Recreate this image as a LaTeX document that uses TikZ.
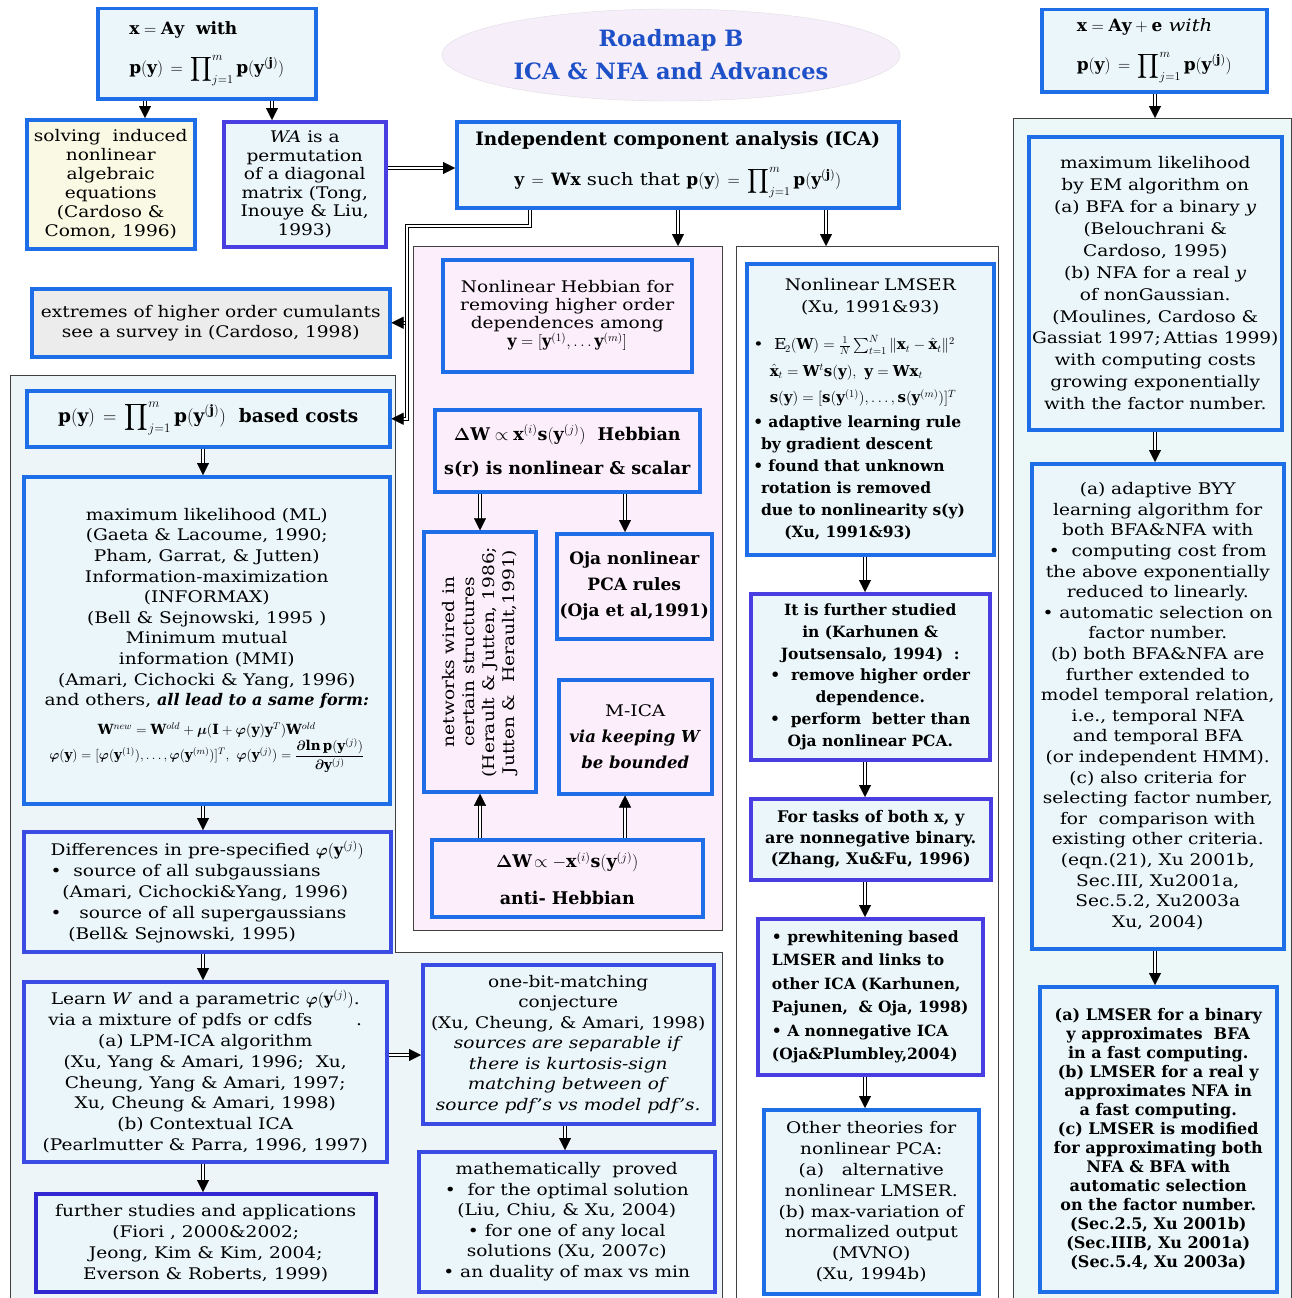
\RequirePackage{fix-cm}
\documentclass[tikz,border=0pt]{standalone}
\usepackage{amsmath,amssymb}
\usepackage{fontspec}
\setmainfont{DejaVu Serif}[FakeStretch=1.16, BoldFeatures={FakeStretch=1.0}, BoldItalicFeatures={FakeStretch=1.0}]
\usetikzlibrary{arrows.meta,decorations.markings,calc,shapes.geometric}
\definecolor{bblue}{RGB}{30,110,232}
\definecolor{pblue}{RGB}{72,62,226}
\definecolor{dblue}{RGB}{50,40,210}
\definecolor{boxfill}{RGB}{234,246,250}
\definecolor{panfill}{RGB}{238,245,248}
\definecolor{pinkfill}{RGB}{252,238,250}
\definecolor{rpanfill}{RGB}{236,248,248}
\definecolor{yelfill}{RGB}{250,250,228}
\definecolor{greyfill}{RGB}{236,236,236}
\definecolor{titlefill}{RGB}{246,238,248}
\definecolor{titleblue}{RGB}{30,80,200}
\newcommand\fsz[2]{\fontsize{#1}{#2}\selectfont}
\newcommand\BX[7]{\node[#1, anchor=north west, minimum width={(#4-#2)*1pt}, minimum height={(#5-#3)*1pt}] (#6) at (#2,#3) {#7};}
\newcommand\PY{\mathbf{p(y)}\,=\,\displaystyle\prod\nolimits_{j=1}^{m}\mathbf{p(y^{(j)})}}
\tikzset{
  box/.style={draw=bblue, line width=3.5pt, fill=boxfill, align=center, inner sep=2pt, font=\fsz{16}{20}},
  pbox/.style={box, draw=pblue},
  panel/.style={draw=black!75, line width=0.8pt},
  dbl/.style={draw=black, line width=0.8pt, double=white, double distance=2.2pt, shorten >=9pt,
    postaction={decorate, decoration={markings, mark=at position 1 with {\arrow[line width=0.4pt]{Triangle[length=12pt,width=12pt]}}}}},
}
\begin{document}
\begin{tikzpicture}[x=1pt,y=-1pt]
\useasboundingbox (0,0) rectangle (1291,1298);
% ---------- panels
\draw[panel, fill=panfill] (10,375) -- (395,375) -- (395,952) -- (722,952) -- (722,1298) -- (10,1298) -- cycle;
\BX{panel, fill=pinkfill}{413}{246}{722}{930}{pinkpan}{}
\BX{panel, fill=white}{736}{246}{998}{1298}{lmspan}{}
\BX{panel, fill=rpanfill}{1013}{118}{1291}{1298}{rpan}{}
% ---------- title
\node[ellipse, fill=titlefill, draw=titlefill!92!black, line width=0.4pt, minimum width=458pt, minimum height=92pt,
  text=titleblue, font=\bfseries\fsz{22.5}{33}, align=center] (T) at (671,55) {Roadmap B\\ICA \& NFA and Advances};
% ---------- top row
\BX{box, align=left, font=\bfseries\fsz{17}{30}}{96}{7}{314}{97}{A}{$\mathbf{x}=\mathbf{Ay}$\ \ with\\[9pt] $\PY$}
\BX{box, fill=yelfill, font=\fsz{16}{19}}{25}{118}{193}{247}{B}{solving\ \ induced\\nonlinear\\algebraic\\equations\\(Cardoso \&\\Comon, 1996)}
\BX{pbox, font=\fsz{16}{18.5}}{222}{120}{384}{245}{C}{\textit{WA} is a\\permutation\\of a diagonal\\matrix (Tong,\\Inouye \& Liu,\\1993)}
\BX{box, font=\fsz{17}{30}}{455}{120}{897}{206}{ICA}{{\bfseries\fsz{18.5}{30}Independent component analysis (ICA)}\\[10pt] $\mathbf{y}\,=\,\mathbf{Wx}$ such that $\PY$}
\BX{box, align=left, font=\fsz{17}{30}}{1040}{8}{1265}{90}{TR}{$\mathbf{x}=\mathbf{Ay}+\mathbf{e}$ \textit{with}\\[9pt] $\PY$}
% ---------- left column
\BX{box, fill=greyfill, font=\fsz{16}{20}}{30}{287}{388}{355}{EXT}{extremes of higher order cumulants\\see a survey in (Cardoso, 1998)}
\BX{box, font=\bfseries\fsz{18.5}{20}}{25}{389}{388}{445}{L1}{$\PY$\ \ based costs}
\BX{box, font=\fsz{16}{20.6}}{22}{475}{388}{802}{L2}{maximum likelihood (ML)\\(Gaeta \& Lacoume, 1990;\\Pham, Garrat, \& Jutten)\\Information-maximization\\(INFORMAX)\\(Bell \& Sejnowski, 1995 )\\Minimum mutual\\information (MMI)\\(Amari, Cichocki \& Yang, 1996)\\and others, \textbf{\textit{all lead to a same form:}}\\[8pt]
{\fsz{14}{20}$\mathbf{W}^{new}=\mathbf{W}^{old}+\boldsymbol{\mu}(\mathbf{I}+\boldsymbol{\varphi}(\mathbf{y})\mathbf{y}^{T})\mathbf{W}^{old}$}\\
{\fsz{13.5}{20}$\boldsymbol{\varphi}(\mathbf{y})=[\boldsymbol{\varphi}(\mathbf{y}^{(1)}),\dots,\boldsymbol{\varphi}(\mathbf{y}^{(m)})]^{T},\ \boldsymbol{\varphi}(\mathbf{y}^{(j)})=\dfrac{\boldsymbol{\partial}\mathbf{ln\,p}(\mathbf{y}^{(j)})}{\boldsymbol{\partial}\mathbf{y}^{(j)}}$}}
\BX{pbox, draw=pblue!70!bblue, align=left, font=\fsz{16}{21}}{22}{830}{389}{950}{L3}{Differences in pre-specified $\boldsymbol{\varphi}(\mathbf{y}^{(j)})$\\\textbullet\ \ source of all subgaussians\\\ \ (Amari, Cichocki\&Yang, 1996)\\\textbullet\ \ \ source of all supergaussians\\\ \ \ (Bell\& Sejnowski, 1995)}
\BX{pbox, draw=pblue!70!bblue, font=\fsz{16}{20.9}}{22}{980}{385}{1160}{L4}{Learn \textit{W} and a parametric $\boldsymbol{\varphi}(\mathbf{y}^{(j)})$.\\via a mixture of pdfs or cdfs \qquad\ .\\(a) LPM-ICA algorithm\\(Xu, Yang \& Amari, 1996;\ \ Xu,\\Cheung, Yang \& Amari, 1997;\\Xu, Cheung \& Amari, 1998)\\(b) Contextual ICA\\(Pearlmutter \& Parra, 1996, 1997)}
\BX{pbox, draw=dblue, font=\fsz{16}{21}}{34}{1192}{374}{1290}{L5}{further studies and applications\\(Fiori , 2000\&2002;\\Jeong, Kim \& Kim, 2004;\\Everson \& Roberts, 1999)}
% ---------- lower middle
\BX{pbox, draw=pblue!70!bblue, font=\fsz{16}{20.5}}{421}{963}{712}{1122}{O1}{one-bit-matching\\conjecture\\(Xu, Cheung, \& Amari, 1998)\\\textit{sources are separable if}\\\textit{there is kurtosis-sign}\\\textit{matching between of}\\\textit{source pdf's vs model pdf's.}}
\BX{pbox, draw=pblue!70!bblue, font=\fsz{16}{20.6}}{417}{1150}{713}{1290}{O2}{mathematically\ \ proved\\\textbullet\ \ for the optimal solution\\(Liu, Chiu, \& Xu, 2004)\\\textbullet\ for one of any local\\solutions (Xu, 2007c)\\\textbullet\ an duality of max vs min}
% ---------- pink panel
\BX{box, fill=pinkfill, font=\fsz{16}{18}}{441}{258}{690}{370}{P1}{Nonlinear Hebbian for\\removing higher order\\dependences among\\$\mathbf{y}=[\mathbf{y}^{(1)},\dots\mathbf{y}^{(m)}]$}
\BX{box, fill=pinkfill, font=\bfseries\fsz{17.5}{34}}{433}{408}{698}{490}{P2}{$\boldsymbol{\Delta}\mathbf{W}\propto\mathbf{x}^{(i)}\mathbf{s}(\mathbf{y}^{(j)})$\ \ Hebbian\\s(r) is nonlinear \& scalar}
\node[box, fill=pinkfill, rotate=90, minimum width=260pt, minimum height=112pt, font=\fsz{16}{20}] (P3) at (480,662) {networks wired in\\certain structures\\(Herault \& Jutten, 1986;\\Jutten \&\ \ Herault,1991)};
\BX{box, fill=pinkfill, font=\bfseries\fsz{17}{26}}{555}{532}{710}{637}{P4}{Oja nonlinear\\PCA rules\\(Oja et al,1991)}
\BX{box, fill=pinkfill, font=\fsz{16}{26}}{557}{678}{710}{792}{P5}{M-ICA\\{\fsz{16.5}{26}\textbf{\textit{via keeping W}}}\\{\fsz{16.5}{26}\textbf{\textit{be bounded}}}}
\BX{box, fill=pinkfill, font=\bfseries\fsz{17.5}{37}}{430}{838}{701}{915}{P6}{$\boldsymbol{\Delta}\mathbf{W}\!\propto-\mathbf{x}^{(i)}\mathbf{s}(\mathbf{y}^{(j)})$\\anti- Hebbian}
% ---------- LMSER column
\node[box, anchor=north west, minimum width=247pt, minimum height=291pt, text width=234pt, align=left, font=\fsz{16}{22}] (M1) at (745,262) {{\centering Nonlinear LMSER\\(Xu, 1991\&93)\par}\vspace{11pt}
{\fsz{15}{26.5}\textbullet\ \ $\mathrm{E}_2(\mathbf{W})=\frac{1}{N}\sum_{t=1}^{N}\|\mathbf{x}_t-\hat{\mathbf{x}}_t\|^2$\\
\hspace*{1.1em}$\hat{\mathbf{x}}_t=\mathbf{W}^t\mathbf{s}(\mathbf{y}),\ \mathbf{y}=\mathbf{Wx}_t$\\
\hspace*{1.1em}$\mathbf{s}(\mathbf{y})=[\mathbf{s}(\mathbf{y}^{(1)}),\dots,\mathbf{s}(\mathbf{y}^{(m)})]^T$\par}\vspace{3pt}
{\bfseries\fsz{15.5}{22}\textbullet\ adaptive learning rule\\\hspace*{0.5em}by gradient descent\\\textbullet\ found that unknown\\\hspace*{0.5em}rotation is removed\\\hspace*{0.5em}due to nonlinearity s(y)\\\hspace*{2em}(Xu, 1991\&93)\par}};
\BX{pbox, font=\bfseries\fsz{15.5}{21.7}}{749}{592}{988}{758}{M2}{It is further studied\\in (Karhunen \&\\Joutsensalo, 1994)\ \ :\\\textbullet\ \ remove higher order\\dependence.\\\textbullet\ \ perform\ \ better than\\Oja nonlinear PCA.}
\BX{pbox, font=\bfseries\fsz{16}{21}}{749}{797}{989}{878}{M3}{For tasks of both x, y\\are nonnegative binary.\\(Zhang, Xu\&Fu, 1996)}
\BX{pbox, align=left, font=\bfseries\fsz{15.5}{23.4}}{756}{917}{981}{1073}{M4}{\textbullet\ prewhitening based\\LMSER and links to\\other ICA (Karhunen,\\Pajunen,\ \ \& Oja, 1998)\\\textbullet\ A nonnegative ICA\\(Oja\&Plumbley,2004)}
\BX{box, font=\fsz{16}{20.9}}{762}{1108}{977}{1292}{M5}{Other theories for\\nonlinear PCA:\\(a)\ \ \ alternative\\nonlinear LMSER.\\(b) max-variation of\\normalized output\\(MVNO)\\(Xu, 1994b)}
% ---------- right column
\BX{box, font=\fsz{16}{21.9}}{1027}{135}{1280}{428}{R1}{maximum likelihood\\by EM algorithm on\\(a) BFA for a binary \textit{y}\\(Belouchrani \&\\Cardoso, 1995)\\(b) NFA for a real \textit{y}\\of nonGaussian.\\(Moulines, Cardoso \&\\Gassiat 1997;\,Attias 1999)\\with computing costs\\growing exponentially\\with the factor number.}
\BX{box, font=\fsz{16}{20.6}}{1030}{462}{1282}{947}{R2}{(a) adaptive BYY\\learning algorithm for\\both BFA\&NFA with\\\textbullet\ \ computing cost from\\the above exponentially\\reduced to linearly.\\\textbullet\ automatic selection on\\factor number.\\(b) both BFA\&NFA are\\further extended to\\model temporal relation,\\i.e., temporal NFA\\and temporal BFA\\(or independent HMM).\\(c) also criteria for\\selecting factor number,\\for\ \ comparison with\\existing other criteria.\\(eqn.(21), Xu 2001b,\\Sec.III, Xu2001a,\\Sec.5.2, Xu2003a\\Xu, 2004)}
\BX{box, font=\bfseries\fsz{16}{19}}{1038}{985}{1275}{1290}{R3}{(a) LMSER for a binary\\y approximates\ \ BFA\\in a fast computing.\\(b) LMSER for a real y\\approximates NFA in\\a fast computing.\\(c) LMSER is modified\\for approximating both\\NFA \& BFA with\\automatic selection\\on the factor number.\\(Sec.2.5, Xu 2001b)\\(Sec.IIIB, Xu 2001a)\\(Sec.5.4, Xu 2003a)}
% ---------- helper columns / rows
\coordinate (c145) at (145,0);
\coordinate (c272) at (272,0);
\coordinate (c530) at (530,0);
\coordinate (c678) at (678,0);
\coordinate (c826) at (826,0);
\coordinate (c1155) at (1155,0);
\coordinate (c203) at (203,0);
\coordinate (c625) at (625,0);
\coordinate (c865) at (865,0);
\coordinate (c565) at (565,0);
\coordinate (r168) at (0,168);
\coordinate (r1055) at (0,1055);
\coordinate (j1) at (407,226);
% ---------- connectors
\draw[dbl] (A.south -| c145) -- (B.north -| c145);
\draw[dbl] (A.south -| c272) -- (C.north -| c272);
\draw[dbl] (C.east |- r168) -- (ICA.west |- r168);
\draw[dbl] (ICA.south -| c678) -- (pinkpan.north -| c678);
\draw[dbl] (ICA.south -| c826) -- (lmspan.north -| c826);
\draw[dbl] (ICA.south -| c530) |- (j1) -- (j1 |- L1.east) -- (L1.east);
\draw[dbl] ([xshift=-2pt]j1 |- EXT.east) -- (EXT.east);
\draw[dbl] (TR.south -| c1155) -- (rpan.north -| c1155);
\draw[dbl] (R1.south -| c1155) -- (R2.north -| c1155);
\draw[dbl] (R2.south -| c1155) -- (R3.north -| c1155);
\draw[dbl] (M1.south -| c865) -- (M2.north -| c865);
\draw[dbl] (M2.south -| c865) -- (M3.north -| c865);
\draw[dbl] (M3.south -| c865) -- (M4.north -| c865);
\draw[dbl] (M4.south -| c865) -- (M5.north -| c865);
\draw[dbl] (P2.south -| P3.center) -- (P3.east);
\draw[dbl] (P2.south -| c625) -- (P4.north -| c625);
\draw[dbl] (P6.north -| P3.center) -- (P3.west);
\draw[dbl] (P6.north -| c625) -- (P5.south -| c625);
\draw[dbl] (L1.south -| c203) -- (L2.north -| c203);
\draw[dbl] (L2.south -| c203) -- (L3.north -| c203);
\draw[dbl] (L3.south -| c203) -- (L4.north -| c203);
\draw[dbl] (L4.south -| c203) -- (L5.north -| c203);
\draw[dbl] (L4.east |- r1055) -- (O1.west |- r1055);
\draw[dbl] (O1.south -| c565) -- (O2.north -| c565);
\end{tikzpicture}
\end{document}
